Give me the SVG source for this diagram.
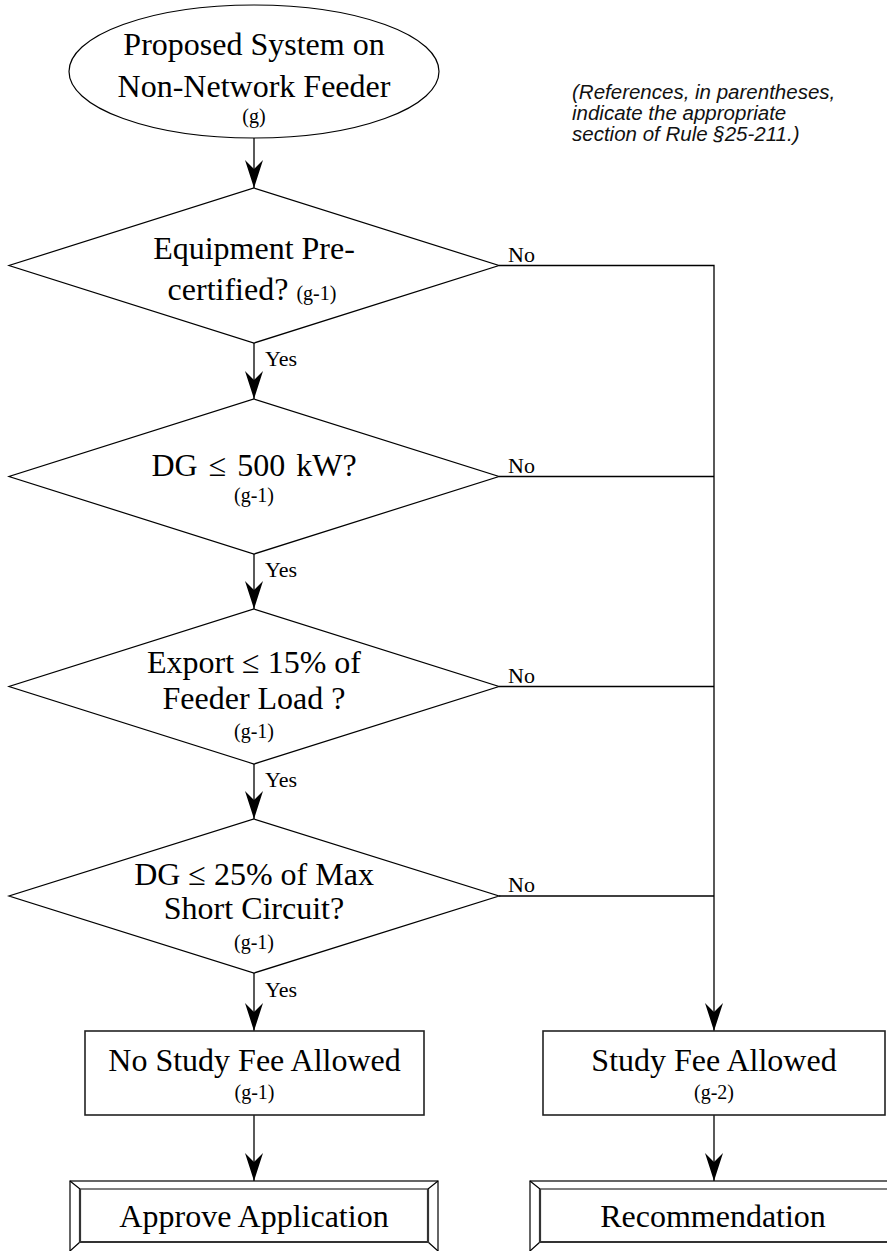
<svg xmlns="http://www.w3.org/2000/svg" width="887" height="1251" viewBox="0 0 887 1251">
<defs>
<marker id="ah" markerUnits="userSpaceOnUse" markerWidth="30" markerHeight="20" refX="28" refY="10" orient="auto" viewBox="0 0 30 20">
<path d="M0,1 L28,10 L0,19 L9,10 Z" fill="#000"/>
</marker>
<style>
.s{fill:#fff;stroke:#000;stroke-width:1.2}
.b{fill:#fff;stroke:#222;stroke-width:1.6}
.t{font-family:"Liberation Serif","Times New Roman",serif;font-size:32px;fill:#000;text-anchor:middle}
.sm{font-size:20px}
.lab{font-family:"Liberation Serif","Times New Roman",serif;font-size:22px;fill:#000}
.note{font-family:"Liberation Sans",Arial,sans-serif;font-style:italic;font-size:20.5px;fill:#111}
.c{fill:none;stroke:#000;stroke-width:1.3}
.bl{fill:none;stroke:#000;stroke-width:1.2}
.bd{fill:none;stroke:#333;stroke-width:2.2}
</style>
</defs>
<rect width="887" height="1251" fill="#fff"/>

<g id="connectors">
<path class="c" d="M254,138 V188" marker-end="url(#ah)"/>
<path class="c" d="M254,343 V399" marker-end="url(#ah)"/>
<path class="c" d="M254,554 V609" marker-end="url(#ah)"/>
<path class="c" d="M254,764 V819" marker-end="url(#ah)"/>
<path class="c" d="M254,973 V1031" marker-end="url(#ah)"/>
<path class="c" d="M254,1115 V1181" marker-end="url(#ah)"/>
<path class="c" d="M499,265.5 H714 V1031" marker-end="url(#ah)"/>
<path class="c" d="M499,476.5 H714"/>
<path class="c" d="M499,686.5 H714"/>
<path class="c" d="M499,896 H714"/>
<path class="c" d="M714,1115 V1181" marker-end="url(#ah)"/>
<text class="lab" x="265" y="366">Yes</text>
<text class="lab" x="265" y="577">Yes</text>
<text class="lab" x="265" y="787">Yes</text>
<text class="lab" x="265" y="997">Yes</text>
<text class="lab" x="508" y="262">No</text>
<text class="lab" x="508" y="473">No</text>
<text class="lab" x="508" y="683">No</text>
<text class="lab" x="508" y="892">No</text>
</g>

<g id="start">
<ellipse class="s" cx="254" cy="71.5" rx="185" ry="66.5"/>
<text class="t" x="254" y="55">Proposed System on</text>
<text class="t" x="254" y="97">Non-Network Feeder</text>
<text class="t sm" x="254" y="123">(g)</text>
</g>

<g id="note">
<text class="note" x="572" y="99">(References, in parentheses,</text>
<text class="note" x="572" y="120">indicate the appropriate</text>
<text class="note" x="572" y="141">section of Rule §25-211.)</text>
</g>

<g id="d1">
<polygon class="s" points="254,188 499,265.5 254,343 9,265.5"/>
<text class="t" x="254" y="259">Equipment Pre-</text>
<text class="t" x="252" y="300">certified? <tspan class="sm">(g-1)</tspan></text>
</g>

<g id="d2">
<polygon class="s" points="254,399 499,476.5 254,554 9,476.5"/>
<text class="t" x="254" y="476" word-spacing="3">DG ≤ 500 kW?</text>
<text class="t sm" x="254" y="502">(g-1)</text>
</g>

<g id="d3">
<polygon class="s" points="254,609 499,686.5 254,764 9,686.5"/>
<text class="t" x="254" y="673">Export ≤ 15% of</text>
<text class="t" x="254" y="709">Feeder Load ?</text>
<text class="t sm" x="254" y="738">(g-1)</text>
</g>

<g id="d4">
<polygon class="s" points="254,819 499,896 254,973 9,896"/>
<text class="t" x="254" y="885">DG ≤ 25%  of Max</text>
<text class="t" x="254" y="919">Short Circuit?</text>
<text class="t sm" x="254" y="949">(g-1)</text>
</g>

<g id="nofee">
<rect class="b" x="85" y="1031" width="339" height="84"/>
<text class="t" x="254.5" y="1071">No Study Fee Allowed</text>
<text class="t sm" x="254.5" y="1099">(g-1)</text>
</g>

<g id="fee">
<rect class="b" x="543" y="1031" width="342" height="84"/>
<text class="t" x="714" y="1071">Study Fee Allowed</text>
<text class="t sm" x="714" y="1099">(g-2)</text>
</g>

<g id="approve">
<rect class="bl" x="70" y="1181" width="368" height="72" fill="#fff"/>
<path class="bl" d="M80,1189 H428 M70,1181 L80,1189 M438,1181 L428,1189 M70,1251 L80,1242 M438,1251 L428,1242"/>
<path class="bd" d="M80,1189 V1242 H428 V1189"/>
<text class="t" x="254" y="1227">Approve Application</text>
</g>

<g id="recommend">
<rect class="bl" x="530" y="1181" width="368" height="72" fill="#fff"/>
<path class="bl" d="M540,1189 H888 M530,1181 L540,1189 M530,1251 L540,1242"/>
<path class="bd" d="M540,1189 V1242 H888"/>
<text class="t" x="713" y="1227">Recommendation</text>
</g>
</svg>
